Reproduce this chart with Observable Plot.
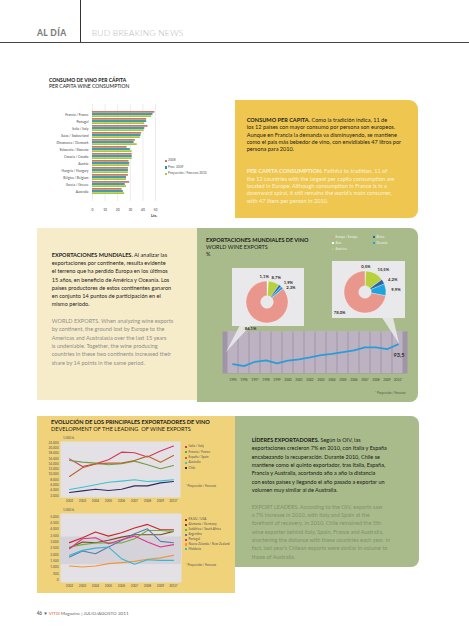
<!DOCTYPE html>
<html><head><meta charset="utf-8">
<script src="https://cdn.jsdelivr.net/npm/d3@7"></script>
<script src="https://cdn.jsdelivr.net/npm/@observablehq/plot@0.6"></script>
<style>
html,body{margin:0;padding:0;background:#fff;}
#page{position:relative;width:469px;height:640px;overflow:hidden;font-family:Lato,"Open Sans",sans-serif;color:#222;}
#page div{position:absolute;}
#page svg{overflow:visible;}
</style></head>
<body><div id="page"></div>
<script>
// ---------- DATA ----------
const countries = ["Francia / France","Portugal","Italia / Italy","Suiza / Switzerland","Dinamarca / Denmark","Eslovenia / Slovenia","Croacia / Croatia","Austria","Hungría / Hungary","Bélgica / Belgium","Grecia / Greece","Australia"];
const consSeries = ["2008","Prov. 2009","Proyección / Forecast 2010"];
const cons2008 = [49.5, 43, 44, 39, 34, 27.5, 31.5, 29, 28.5, 28.5, 29.5, 23.5];
const cons2009 = [48, 43, 41.5, 38.5, 33, 30, 31.5, 29.5, 28.5, 27, 26, 24.5];
const cons2010 = [47, 41.5, 41, 38, 35.5, 31.5, 31.5, 29.5, 28.5, 27, 27, 25.5];
const consTicks = [0, 10, 20, 30, 40, 50];

const pieRegions = ["Asia","América","África","Oceanía","Europa / Europe"];
const share1995 = [1.1, 8.7, 1.9, 2.3, 86.1];
const share2010 = [0.5, 15.5, 4.2, 9.9, 78.0];

const exportYears = ["1995","1996","1997","1998","1999","2000","2001","2002","2003","2004","2005","2006","2007","2008","2009","2010*"];
const worldExports = [57, 53.5, 61.5, 64, 58.5, 63.5, 66, 69.5, 73.5, 76, 79, 82.5, 88, 88, 84.5, 93.5];

const evoYears = ["2002","2003","2004","2005","2006","2007","2008","2009","2010*"];
const topNames = ["Italia / Italy","Francia / France","España / Spain","Australia","Chile"];
const italyExp = [15900, 13000, 14000, 15550, 18450, 18200, 16600, 18850, 20750];
const franceExp = [15300, 14650, 14300, 13650, 14050, 15050, 13650, 12150, 13400];
const spainExp = [9200, 12500, 14000, 14300, 14300, 15300, 16950, 14650, 17200];
const australiaExp = [4300, 5150, 6050, 7050, 7450, 7950, 7300, 7550, 7950];
const chileExp = [3150, 3750, 4400, 3900, 4400, 5650, 5650, 6800, 7300];
const topTicks = [2000,4000,6000,8000,10000,12000,14000,16000,18000,20000,22000];

const botNames = ["EE.UU / USA","Alemania / Germany","Sudáfrica / South Africa","Argentina","Portugal","Nueva Zelanda / New Zealand","Moldavia"];
const usaExp = [2950, 3330, 3780, 3460, 3720, 4090, 4380, 3960, 3960];
const germanyExp = [2520, 3000, 2940, 3130, 3380, 3570, 3570, 3570, 3830];
const southAfricaExp = [2600, 2790, 2920, 2940, 2920, 3250, 3900, 3900, 3830];
const argentinaExp = [1820, 2290, 2080, 2600, 3120, 3650, 4030, 3050, 2940];
const portugalExp = [2470, 3250, 3330, 2860, 3180, 3460, 3000, 2600, 2790];
const newZealandExp = [1120, 1040, 1120, 1300, 1380, 1480, 1640, 1750, 1950];
const moldovaExp = [1950, 2340, 2520, 2600, 1690, 1250, 1610, 1560, 1560];
const botTicks = [0,500,1000,1500,2000,2500,3000,3500,4000,4500,5000];
const botBand = [1220, 3390];

// ---------- HELPERS ----------
const page = document.getElementById("page");
function div(css, html){ const d=document.createElement("div"); d.style.cssText=css; if(html!=null) d.innerHTML=html; page.appendChild(d); return d; }
function lines(x, y0, lh, fs, color, arr, extra=""){
  arr.forEach((t,i)=>div(`left:${x}px;top:${(y0+i*lh-fs/2).toFixed(2)}px;font-size:${fs}px;line-height:${fs}px;color:${color};white-space:nowrap;${extra}`, t));
}
function place(node, x, y){ node.style.position="absolute"; node.style.left=x+"px"; node.style.top=y+"px"; page.appendChild(node); }
function legend(x, y0, dy, names, colors, fs, color){
  names.forEach((n,i)=>{
    const y=y0+i*dy;
    div(`left:${x}px;top:${y-1.1}px;width:2.2px;height:2.2px;background:${colors[i]};`);
    div(`left:${x+3.6}px;top:${y-fs/2}px;font-size:${fs}px;line-height:${fs}px;color:${color};white-space:nowrap;`, n);
  });
}
const dotFmt = d => d3.format(",")(d).replace(/,/g,".");
const pctFmt = d => d3.format(".1f")(d).replace(".",",")+"%";

// ---------- BACKGROUNDS ----------
div("left:80px;top:0;width:1px;height:42px;background:#333;");
div("left:0;top:41.5px;width:469px;height:1px;background:#444;");
div("left:235px;top:100px;width:183px;height:118px;background:#eec650;border-radius:0 9px 8px 0;");
div("left:37px;top:228px;width:160px;height:172px;background:#f6ecca;");
div("left:197px;top:228px;width:221px;height:174px;background:#a9bb8b;border-radius:0 8px 8px 0;");
div("left:37px;top:416px;width:198px;height:177px;background:#f0d27a;");
div("left:235px;top:416px;width:184px;height:151px;background:#a9bb8b;border-radius:0 8px 8px 0;");

// ---------- HEADER ----------
lines(37, 33.7, 0, 8.5, "#7d7d7d", ["AL DÍA"], "font-weight:900;letter-spacing:0.4px;");
lines(91.7, 33.7, 0, 8.5, "#b8b8b8", ["BUD BREAKING NEWS"], "font-weight:300;letter-spacing:0.2px;");

// ---------- PER CAPITA BAR CHART ----------
lines(49, 80, 6, 5, "#111", ["<b>CONSUMO DE VINO PER CÁPITA</b>","PER CAPITA WINE CONSUMPTION"]);
const consColors = ["#c67a6c","#2e8ea2","#a9c63d"];
const consRows = [cons2008, cons2009, cons2010].flatMap((arr,s)=>arr.map((v,i)=>({country:countries[i], series:consSeries[s], s, value:v})));
{
  const H=125, mt=6, mb=22, pad=0.2;
  const step=(H-mt-mb)/(countries.length+pad), bw=step*(1-pad), third=bw/3;
  const bars = [0,1,2].map(s=>Plot.barX(consRows.filter(d=>d.s===s), {
    x:"value", y:"country", fill:consColors[s],
    insetTop: s*third, insetBottom:(2-s)*third
  }));
  const p = Plot.plot({
    width:150, height:H, marginLeft:72, marginRight:15, marginTop:mt, marginBottom:mb,
    style:{background:"transparent", fontFamily:"Lato", fontSize:"3.3px", color:"#444"},
    x:{domain:[0,50], ticks:consTicks, grid:true, tickSize:0, tickPadding:7, label:null},
    y:{domain:countries, padding:pad, tickSize:0, tickPadding:4, label:null},
    marks:[...bars]
  });
  place(p, 20, 98);
}
div("left:151px;top:213.5px;font-size:4px;line-height:4px;font-weight:bold;color:#333;", "Lts.");
legend(164.5, 161, 6.5, consSeries, consColors, 3.2, "#555");

// ---------- YELLOW TEXT BOX ----------
lines(246.7, 120, 7.15, 5.6, "#1e1e1e", [
  "<b>CONSUMO PER CAPITA.</b> Como la tradición indica, 11 de",
  "los 12 países con mayor consumo por persona son europeos.",
  "Aunque en Francia la demanda va disminuyendo, se mantiene",
  "como el país más bebedor de vino, con envidiables 47 litros por",
  "persona para 2010."]);
lines(246.7, 171, 7.4, 5.6, "#fbf3d8", [
  "<b>PER CAPITA CONSUMPTION.</b> Faithful to tradition, 11 of",
  "the 12 countries with the largest per capita consumption are",
  "located in Europe. Although consumption in France is in a",
  "downward spiral, it still remains the world’s main consumer,",
  "with 47 liters per person in 2010."]);

// ---------- CREAM TEXT BOX ----------
lines(51.7, 254.6, 8.27, 5.6, "#1e1e1e", [
  "<b>EXPORTACIONES MUNDIALES.</b> Al analizar las",
  "exportaciones por continente, resulta evidente",
  "el terreno que ha perdido Europa en los últimos",
  "15 años, en beneficio de América y Oceanía. Los",
  "países productores de estos continentes ganaron",
  "en conjunto 14 puntos de participación en el",
  "mismo período."]);
lines(51.7, 321, 8.27, 5.6, "#8e8e8e", [
  "WORLD EXPORTS. When analyzing wine exports",
  "by continent, the ground lost by Europe to the",
  "Americas and Australasia over the last 15 years",
  "is undeniable. Together, the wine producing",
  "countries in these two continents increased their",
  "share by 14 points in the same period."]);

// ---------- WORLD EXPORTS PANEL ----------
lines(206, 240.6, 7.3, 5.5, "#1a1a1a", ["<b>EXPORTACIONES MUNDIALES DE VINO</b>","WORLD WINE EXPORTS","%"]);
const regionColors = {"Asia":"#ffffff","América":"#b9d03e","África":"#2e63a6","Oceanía":"#1ea5e0","Europa / Europe":"#e9978c"};
legend(332, 237.3, 6, ["Europa / Europe","Asia","América"], ["Europa / Europe","Asia","América"].map(r=>regionColors[r]), 3.1, "#eef1e2");
legend(372.7, 237.3, 6, ["África","Oceanía"], ["África","Oceanía"].map(r=>regionColors[r]), 3.1, "#eef1e2");

// line chart with columns
const exportRows = exportYears.map((y,i)=>({year:y, value:worldExports[i]}));
{
  const yDom=[40,117];
  const p = Plot.plot({
    width:200, height:60, marginLeft:7, marginRight:8, marginTop:3, marginBottom:15,
    style:{background:"transparent", fontFamily:"Lato", fontSize:"3.2px", color:"#3d4a33"},
    x:{domain:exportYears, padding:0, tickSize:0, tickPadding:5, label:null},
    y:{domain:yDom, axis:null},
    marks:[
      Plot.frame({fill:"#9f95a6"}),
      Plot.barY(exportYears, {x:d=>d, y1:()=>yDom[0], y2:()=>yDom[1], fill:"#bcb2c1", insetLeft:0.45, insetRight:0.45}),
      Plot.line(exportRows, {x:"year", y:"value", stroke:"#2b9cd8", strokeWidth:1.8}),
      Plot.text(exportRows.slice(-1), {x:"year", y:"value", text:d=>d3.format(".1f")(d.value).replace(".",","), dy:11, dx:1, fontSize:5.5, fontWeight:"bold", fill:"#2a2a2a"})
    ]
  });
  place(p, 215, 328);
}
div("left:375px;top:391.5px;font-size:3px;line-height:3px;color:#4a5a3c;white-space:nowrap;", "* Proyección / Forecast");

// donut panels and callouts
div("left:232px;top:268px;width:72px;height:58px;background:#e9e8eb;");
div("left:332px;top:261px;width:73px;height:57px;background:#e9e8eb;");
div("left:224px;top:325px;width:28px;height:28px;background:rgba(236,235,239,0.85);clip-path:polygon(16px 0,27px 0,2px 27px);");
div("left:380px;top:317.5px;width:22px;height:28px;background:rgba(236,235,239,0.85);clip-path:polygon(2px 0,13px 0,19px 26px);");

function donutLabels(shares){
  const R=21, Rl=26, cw=2.25;
  const arcs = d3.pie().sort(null).value(d=>d)(shares);
  const labs = arcs.map((a,i)=>{
    const ang=(a.startAngle+a.endAngle)/2, s=Math.sin(ang), c=Math.cos(ang);
    const text=pctFmt(shares[i]), w=text.length*cw;
    const anchor = s>0.4 ? "start" : s<-0.4 ? "end" : "middle";
    let x=Rl*s, y=-Rl*c;
    if (c<-0.3) y+=3;
    return {text, x, y, w, anchor, ang};
  });
  const box = l => { const x0 = l.anchor==="start"?l.x : l.anchor==="end"? l.x-l.w : l.x-l.w/2; return [x0, x0+l.w]; };
  for (let i=0;i<labs.length-1;i++){
    const A=labs[i], B=labs[i+1];
    const [a0,a1]=box(A), [b0,b1]=box(B);
    const ov=Math.min(a1,b1)-Math.max(a0,b0);
    if (ov>-1 && Math.abs(A.y-B.y)<5.5){
      if (Math.cos(A.ang)>0.8) A.x -= ov+3; else B.y = A.y+5.5;
    }
  }
  return labs.map(l=>({text:l.text, anchor:l.anchor, x:l.x/R, y:-l.y/R}));
}
function donut(shares, W, H, cx, cy){
  const R=21;
  const labs = donutLabels(shares);
  const colors = pieRegions.map(r=>regionColors[r]);
  const arcMark = (index, scales, values, dims) => {
    let x0, y0, r;
    if (scales && typeof scales.x === "function") { x0=scales.x(0); y0=scales.y(0); r=scales.x(1)-scales.x(0); }
    else { x0=cx; y0=cy; r=R; }
    const g = d3.create("svg:g").attr("transform",`translate(${x0},${y0})`);
    const arc = d3.arc().innerRadius(r*0.3).outerRadius(r);
    g.selectAll("path").data(d3.pie().sort(null).value(d=>d)(shares)).join("path")
      .attr("d",arc).attr("fill",(d,i)=>colors[i]).attr("stroke","#ffffff").attr("stroke-width",0.3);
    return g.node();
  };
  const textMarks = ["start","middle","end"].map(a=>Plot.text(labs.filter(l=>l.anchor===a), {x:"x", y:"y", text:"text", textAnchor:a, fontSize:4.2, fontWeight:"bold", fill:"#2b2b2b"}));
  return Plot.plot({
    width:W, height:H, margin:0,
    style:{background:"transparent", fontFamily:"Lato"},
    x:{domain:[-cx/R,(W-cx)/R], axis:null},
    y:{domain:[-(H-cy)/R, cy/R], axis:null},
    marks:[arcMark, ...textMarks]
  });
}
place(donut(share1995, 72, 58, 35, 34), 232, 268);
place(donut(share2010, 73, 57, 33, 31), 332, 261);

// ---------- EVOLUTION CHARTS ----------
lines(51, 421.7, 7.3, 5.6, "#1a1a1a", ["<b>EVOLUCIÓN DE LOS PRINCIPALES EXPORTADORES DE VINO</b>","DEVELOPMENT OF THE LEADING &nbsp;OF WINE EXPORTS"]);
const topColors = ["#d4375c","#6f9d48","#b5672c","#3cc1cf","#2d2b5e"];
const topSeries = [italyExp, franceExp, spainExp, australiaExp, chileExp];
const topRows = topSeries.flatMap((arr,s)=>arr.map((v,i)=>({name:topNames[s], year:evoYears[i], value:v})));
{
  const p = Plot.plot({
    width:155, height:75, marginLeft:30, marginRight:5, marginTop:9, marginBottom:10,
    style:{background:"transparent", fontFamily:"Lato", fontSize:"3.2px", color:"#555"},
    x:{type:"point", domain:evoYears, padding:0, insetLeft:6.7, insetRight:5, tickSize:0, tickPadding:2.5, label:null},
    y:{domain:[2000,22000], insetTop:1.3, insetBottom:2, ticks:topTicks, tickFormat:dotFmt, tickSize:0, tickPadding:2, label:null},
    color:{domain:topNames, range:topColors},
    marks:[
      Plot.frame({fill:"#e4e1e6"}),
      Plot.line(topRows, {x:"year", y:"value", z:"name", stroke:"name", strokeWidth:1.1})
    ]
  });
  place(p, 30, 432);
}
div("left:63px;top:436.6px;font-size:3px;line-height:3px;color:#555;", "1.000 hL");
legend(185, 446.8, 5.4, topNames, topColors, 3.1, "#555");
div("left:185.5px;top:484.5px;font-size:3px;line-height:3px;color:#555;white-space:nowrap;", "* Proyección / Forecast");

const botColors = ["#c8262e","#7b4a20","#6aae3f","#5a79aa","#e1338c","#f0963b","#34b7d2"];
const botSeries = [usaExp, germanyExp, southAfricaExp, argentinaExp, portugalExp, newZealandExp, moldovaExp];
const botRows = botSeries.flatMap((arr,s)=>arr.map((v,i)=>({name:botNames[s], year:evoYears[i], value:v})));
{
  const p = Plot.plot({
    width:155, height:88, marginLeft:30, marginRight:4, marginTop:8, marginBottom:11,
    style:{background:"transparent", fontFamily:"Lato", fontSize:"3.2px", color:"#555"},
    x:{type:"point", domain:evoYears, padding:0, insetLeft:6.7, insetRight:6, tickSize:0, tickPadding:2.5, label:null},
    y:{domain:[0,5000], insetTop:3, insetBottom:2.3, ticks:botTicks, tickFormat:dotFmt, tickSize:0, tickPadding:2, label:null},
    color:{domain:botNames, range:botColors},
    marks:[
      Plot.frame({fill:"#e4e1e6"}),
      Plot.barY([botBand], {y1:d=>d[0], y2:d=>d[1], fill:"#d6d2d9"}),
      Plot.line(botRows, {x:"year", y:"value", z:"name", stroke:"name", strokeWidth:1.1})
    ]
  });
  place(p, 30, 505);
}
div("left:63px;top:508.5px;font-size:3px;line-height:3px;color:#555;", "1.000 hL");
legend(185, 520, 4.9, botNames, botColors, 3.1, "#555");
div("left:185.5px;top:564.2px;font-size:3px;line-height:3px;color:#555;white-space:nowrap;", "* Proyección / Forecast");

// ---------- GREEN BOTTOM TEXT ----------
lines(251.7, 440.8, 8.33, 5.5, "#1a1a1a", [
  "<b>LÍDERES EXPORTADORES.</b> Según la OIV, las",
  "exportaciones crecieron 7% en 2010, con Italia y España",
  "encabezando la recuperación. Durante 2010, Chile se",
  "mantiene como el quinto exportador, tras Italia, España,",
  "Francia y Australia, acortando año a año la distancia",
  "con estos países y llegando el año pasado a exportar un",
  "volumen muy similar al de Australia."]);
lines(251.7, 507.3, 8.33, 5.5, "#7f9271", [
  "EXPORT LEADERS. According to the OIV, exports saw",
  "a 7% increase in 2010, with Italy and Spain at the",
  "forefront of recovery. In 2010, Chile remained the 5th",
  "wine exporter behind Italy, Spain, France and Australia,",
  "shortening the distance with these countries each year. In",
  "fact, last year’s Chilean exports were similar in volume to",
  "those of Australia."]);

// ---------- FOOTER ----------
lines(36.7, 613, 0, 4.6, "#666", ["<b>46</b> <span style='color:#555'>▼</span> <span style='color:#e2572b'>VITIS</span> Magazine | JULIO/AGOSTO 2011"]);
</script>
</body></html>
